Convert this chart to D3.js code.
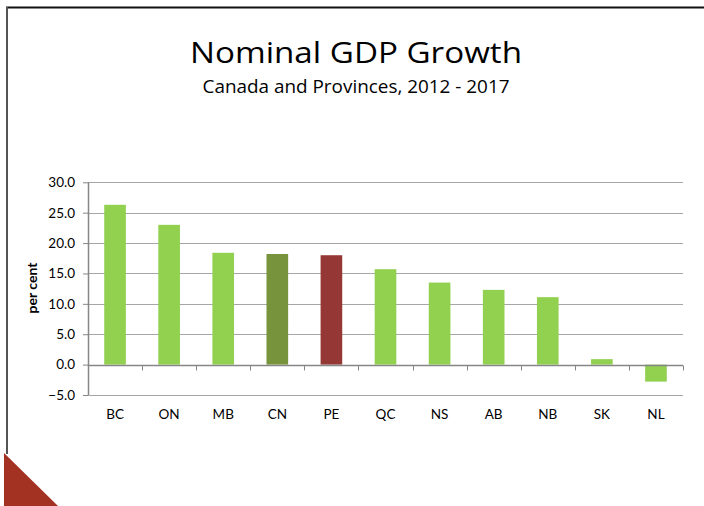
<!DOCTYPE html>
<html>
<head>
<meta charset="utf-8">
<script src="https://cdn.jsdelivr.net/npm/d3@7/dist/d3.min.js"></script>
<style>
  html, body { margin: 0; padding: 0; background: #fff; }
  svg { display: block; }
</style>
</head>
<body>
<script>
// Nominal GDP growth, Canada and provinces, 2012-2017 (per cent)
const regions = ["BC", "ON", "MB", "CN", "PE", "QC", "NS", "AB", "NB", "SK", "NL"];
const growth  = [26.3, 23.0, 18.4, 18.2, 18.0, 15.7, 13.5, 12.3, 11.1, 0.9, -2.8];
const yTicks  = [-5, 0, 5, 10, 15, 20, 25, 30];

const W = 704, H = 506;
const plot = { left: 88, right: 683, top: 182.3, bottom: 395 };

const svg = d3.select("body").append("svg").attr("width", W).attr("height", H);

// slide frame: top rule, left rule and the corner triangle
svg.append("line").attr("x1", 6).attr("x2", W).attr("y1", 7.5).attr("y2", 7.5)
  .attr("stroke", "#111").attr("stroke-width", 2);
svg.append("line").attr("x1", 7).attr("x2", 7).attr("y1", 7).attr("y2", 454)
  .attr("stroke", "#555").attr("stroke-width", 2);
svg.append("path").attr("d", d3.line()([[4, 453], [58, 506], [4, 506]]) + "Z")
  .attr("fill", "#a33223");

// titles
const font = "'Open Sans', 'Noto Sans', sans-serif";
const axisFont = "Lato, 'Open Sans', sans-serif";
svg.append("text").attr("x", 356).attr("y", 63).attr("text-anchor", "middle")
  .attr("font-family", font).attr("font-size", 30).attr("fill", "#000")
  .attr("textLength", 332).attr("lengthAdjust", "spacingAndGlyphs")
  .text("Nominal GDP Growth");
svg.append("text").attr("x", 356).attr("y", 93).attr("text-anchor", "middle")
  .attr("font-family", font).attr("font-size", 17.5).attr("fill", "#000")
  .attr("textLength", 307).attr("lengthAdjust", "spacingAndGlyphs")
  .text("Canada and Provinces, 2012 - 2017");

// scales
const x = d3.scaleBand().domain(regions).range([plot.left, plot.right])
  .paddingInner(0.6).paddingOuter(0.3);
const xStep = d3.scaleBand().domain(regions).range([plot.left, plot.right]);
const y = d3.scaleLinear().domain([-5, 30]).range([plot.bottom, plot.top]);

// horizontal gridlines
svg.append("g").selectAll("line").data(yTicks.filter(d => d !== 0)).join("line")
  .attr("x1", plot.left).attr("x2", plot.right)
  .attr("y1", d => Math.round(y(d)) + 0.5).attr("y2", d => Math.round(y(d)) + 0.5)
  .attr("stroke", "#a6a6a6").attr("stroke-width", 1.2);

// bars
const colour = d => d === "CN" ? "#77933c" : d === "PE" ? "#953735" : "#92d050";
svg.append("g").selectAll("rect").data(regions).join("rect")
  .attr("x", d => x(d))
  .attr("width", x.bandwidth())
  .attr("y", (d, i) => y(Math.max(0, growth[i])))
  .attr("height", (d, i) => Math.abs(y(growth[i]) - y(0)))
  .attr("fill", d => colour(d));

// zero line with category ticks
const xAxis = svg.append("g").attr("transform", `translate(0,${Math.round(y(0)) + 0.5})`)
  .call(d3.axisBottom(xStep).tickSize(0).tickFormat(""));
xAxis.select(".domain").remove();
xAxis.append("line").attr("x1", plot.left).attr("x2", plot.right)
  .attr("stroke", "#868686").attr("stroke-width", 1.5);
xAxis.selectAll(".sep").data(regions).join("line").attr("class", "sep")
  .attr("x1", d => Math.round(xStep(d) + xStep.step()) + 0.5)
  .attr("x2", d => Math.round(xStep(d) + xStep.step()) + 0.5)
  .attr("y1", 0).attr("y2", 5)
  .attr("stroke", "#868686");

// category labels
svg.append("g").selectAll("text").data(regions).join("text")
  .attr("x", d => xStep(d) + xStep.step() / 2).attr("y", 419)
  .attr("text-anchor", "middle")
  .attr("font-family", axisFont).attr("font-size", 13.5).attr("fill", "#000")
  .text(d => d);

// y axis
const yAxis = svg.append("g").attr("transform", `translate(${plot.left},0)`)
  .call(d3.axisLeft(y).tickValues(yTicks).tickFormat(d3.format(".1f")).tickSize(5).tickPadding(8));
yAxis.select(".domain").attr("stroke", "#868686").attr("stroke-width", 1.5)
  .attr("d", `M0.5,${plot.top}V${plot.bottom}`);
yAxis.selectAll(".tick line").attr("stroke", "#868686");
yAxis.selectAll(".tick text")
  .attr("font-family", axisFont).attr("font-size", 13.5).attr("fill", "#000");

// y axis title
svg.append("text").attr("transform", "translate(37,288) rotate(-90)")
  .attr("text-anchor", "middle")
  .attr("font-family", axisFont).attr("font-weight", "bold")
  .attr("font-size", 14).attr("fill", "#000")
  .text("per cent");
</script>
</body>
</html>
